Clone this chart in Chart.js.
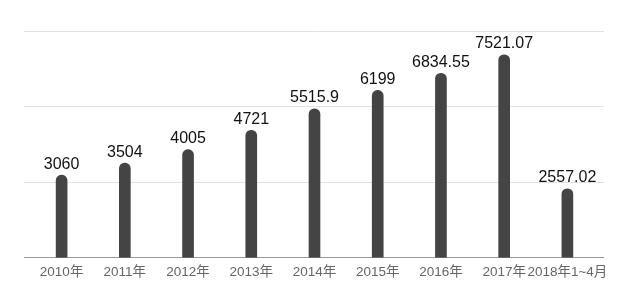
<!DOCTYPE html>
<html>
<head>
<meta charset="utf-8">
<script src="https://cdn.jsdelivr.net/npm/chart.js@4/dist/chart.umd.min.js"></script>
<style>
  html, body { margin: 0; padding: 0; background: #fff; }
  #wrap { width: 630px; height: 287px; position: relative; }
</style>
</head>
<body>
<div id="wrap"><canvas id="myChart"></canvas></div>
<script>
// categories and values
const years = ['2010年', '2011年', '2012年', '2013年', '2014年', '2015年', '2016年', '2017年', '2018年1~4月'];
const values = [3060, 3504, 4005, 4721, 5515.9, 6199, 6834.55, 7521.07, 2557.02];
const valueLabels = ['3060', '3504', '4005', '4721', '5515.9', '6199', '6834.55', '7521.07', '2557.02'];

// labels above bars
const barLabels = {
  id: 'barLabels',
  afterDatasetsDraw(chart) {
    let ctx = chart.ctx;
    let meta = chart.getDatasetMeta(0);
    ctx.save();
    ctx.font = '16px "Liberation Sans", Arial, sans-serif';
    ctx.fillStyle = '#111';
    ctx.textAlign = 'center';
    ctx.textBaseline = 'bottom';
    meta.data.forEach((bar, i) => {
      ctx.fillText(valueLabels[i], bar.x, bar.y - 3);
    });
    ctx.restore();
  }
};

new Chart(document.getElementById('myChart'), {
  type: 'bar',
  data: {
    labels: years,
    datasets: [{
      data: values,
      backgroundColor: '#444444',
      barThickness: 11,
      borderRadius: { topLeft: 6, topRight: 6 },
      borderSkipped: 'bottom'
    }]
  },
  options: {
    responsive: true,
    maintainAspectRatio: false,
    animation: false,
    layout: { padding: { left: 24, right: 26, top: 31, bottom: 1 } },
    plugins: { legend: { display: false }, tooltip: { enabled: false } },
    scales: {
      x: {
        grid: { display: false, drawTicks: false },
        border: { display: false },
        ticks: {
          color: '#666',
          font: { size: 13.5, lineHeight: 1.2, family: '"Liberation Sans", "Noto Sans CJK SC", sans-serif' },
          padding: 6,
          maxRotation: 0,
          autoSkip: false
        }
      },
      y: {
        min: 0,
        max: 8400,
        border: { display: false },
        grid: {
          color: ctx => ctx.tick && ctx.tick.value === 0 ? '#9a9a9a' : '#e2e2e2',
          lineWidth: 1,
          drawTicks: true,
          tickLength: 6
        },
        ticks: { display: false, stepSize: 2800 }
      },
      y2: {
        position: 'right',
        min: 0,
        max: 8400,
        border: { display: false },
        grid: {
          color: ctx => ctx.tick && ctx.tick.value === 0 ? '#9a9a9a' : '#e2e2e2',
          drawOnChartArea: false,
          drawTicks: true,
          tickLength: 5
        },
        ticks: { display: false, stepSize: 2800 }
      }
    }
  },
  plugins: [barLabels]
});
</script>
</body>
</html>
